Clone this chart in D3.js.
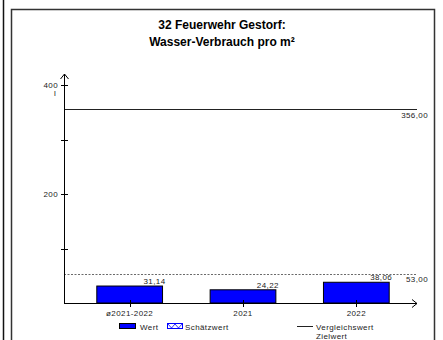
<!DOCTYPE html>
<html>
<head>
<meta charset="utf-8">
<script src="https://cdn.jsdelivr.net/npm/d3@7"></script>
<style>
  body { margin: 0; background: #fff; }
  svg { display: block; font-family: Arial, "Liberation Sans", sans-serif; }
</style>
</head>
<body>
<svg id="chart" width="443" height="340"></svg>
<script>
// chart data
var titleLines = ["32 Feuerwehr Gestorf:", "Wasser-Verbrauch pro m²"];
var categories = ["ø2021-2022", "2021", "2022"];
var values = [31.14, 24.22, 38.06];
var vergleichswert = 356.00;
var zielwert = 53.00;
var yTicks = [100, 200, 300, 400];
var yTickLabels = [200, 400];
var unitLabel = "l";

var svg = d3.select("svg#chart");
var fmt = function (v) { return d3.format(".2f")(v).replace(".", ","); };

// outer frame
svg.append("line")
  .attr("x1", 3.5).attr("x2", 3.5).attr("y1", 0).attr("y2", 340)
  .attr("stroke", "#111").attr("stroke-width", 1.5);
svg.append("path")
  .attr("d", "M11.5,345 V9.5 H434.5 V345")
  .attr("fill", "none").attr("stroke", "#333").attr("stroke-width", 1.5);

// title
svg.append("g").selectAll("text")
  .data(titleLines).enter().append("text")
  .attr("x", 222).attr("y", function (d, i) { return 29 + i * 17; })
  .attr("text-anchor", "middle")
  .attr("font-size", 12).attr("font-weight", "bold")
  .text(function (d) { return d; });

var y = d3.scaleLinear().domain([0, 400]).range([303, 85]);
var x = d3.scaleBand().domain(categories).range([73, 413]).paddingInner(0.42).paddingOuter(0.21);

var small = svg.append("g").attr("font-size", 8).attr("fill", "#222").attr("letter-spacing", 0.4);
var plot = svg.append("g");

// reference lines
plot.append("line")
  .attr("x1", 64).attr("x2", 417)
  .attr("y1", Math.round(y(vergleichswert)) + 0.5).attr("y2", Math.round(y(vergleichswert)) + 0.5)
  .attr("stroke", "#222").attr("stroke-width", 1);
small.append("text")
  .attr("x", 428).attr("y", y(vergleichswert) + 9)
  .attr("text-anchor", "end")
  .text(fmt(vergleichswert));
plot.append("line")
  .attr("x1", 64).attr("x2", 417)
  .attr("y1", Math.round(y(zielwert)) + 0.5).attr("y2", Math.round(y(zielwert)) + 0.5)
  .attr("stroke", "#444").attr("stroke-width", 0.8).attr("stroke-dasharray", "2,1.5");
small.append("text")
  .attr("x", 428).attr("y", y(zielwert) + 8)
  .attr("text-anchor", "end")
  .text(fmt(zielwert));

// bars
plot.selectAll("rect.bar")
  .data(values).enter().append("rect")
  .attr("class", "bar")
  .attr("x", function (d, i) { return x(categories[i]); })
  .attr("width", x.bandwidth())
  .attr("y", function (d) { return y(d); })
  .attr("height", function (d) { return y(0) - y(d); })
  .attr("fill", "#0000ff").attr("stroke", "#000").attr("stroke-width", 1);
small.selectAll("text.val")
  .data(values).enter().append("text")
  .attr("class", "val")
  .attr("x", function (d, i) { return x(categories[i]) + x.bandwidth() + 3; })
  .attr("y", function (d) { return y(d) - 2; })
  .attr("text-anchor", "end")
  .text(function (d) { return fmt(d); });

// y axis
var yAxis = svg.append("g");
yAxis.append("line")
  .attr("x1", 64.5).attr("x2", 64.5).attr("y1", 303).attr("y2", 74)
  .attr("stroke", "#000").attr("stroke-width", 1);
yAxis.append("path")
  .attr("d", "M60.5,79 L64.5,74 L68.5,79")
  .attr("fill", "none").attr("stroke", "#000").attr("stroke-width", 1);
yAxis.selectAll("line.tick")
  .data(yTicks).enter().append("line")
  .attr("class", "tick")
  .attr("x1", 61).attr("x2", 68)
  .attr("y1", function (d) { return Math.round(y(d)) + 0.5; })
  .attr("y2", function (d) { return Math.round(y(d)) + 0.5; })
  .attr("stroke", "#000");
small.selectAll("text.tl")
  .data(yTickLabels).enter().append("text")
  .attr("class", "tl")
  .attr("x", 58).attr("y", function (d) { return y(d) + 3; })
  .attr("text-anchor", "end")
  .text(function (d) { return d; });
small.append("text")
  .attr("x", 55).attr("y", y(400) + 11)
  .attr("text-anchor", "middle")
  .text(unitLabel);

// x axis
var xAxis = svg.append("g");
xAxis.append("line")
  .attr("x1", 64).attr("x2", 417).attr("y1", 303.5).attr("y2", 303.5)
  .attr("stroke", "#000").attr("stroke-width", 1);
xAxis.append("path")
  .attr("d", "M412,299.5 L417,303.5 L412,307.5")
  .attr("fill", "none").attr("stroke", "#000").attr("stroke-width", 1);
xAxis.selectAll("line.tick")
  .data(categories).enter().append("line")
  .attr("class", "tick")
  .attr("x1", function (d) { return Math.round(x(d) + x.bandwidth() / 2) + 0.5; })
  .attr("x2", function (d) { return Math.round(x(d) + x.bandwidth() / 2) + 0.5; })
  .attr("y1", 300).attr("y2", 307)
  .attr("stroke", "#000");
small.selectAll("text.cat")
  .data(categories).enter().append("text")
  .attr("class", "cat")
  .attr("x", function (d) { return x(d) + x.bandwidth() / 2; })
  .attr("y", 316)
  .attr("text-anchor", "middle")
  .text(function (d) { return d; });

// legend
var legend = svg.append("g");
legend.append("rect")
  .attr("x", 119.5).attr("y", 323.5).attr("width", 16).attr("height", 5)
  .attr("fill", "#0000ff").attr("stroke", "#000").attr("stroke-width", 1);
small.append("text").attr("x", 140).attr("y", 330).text("Wert");
legend.append("rect")
  .attr("x", 167.5).attr("y", 323.5).attr("width", 15).attr("height", 5)
  .attr("fill", "#fff").attr("stroke", "#0000ff").attr("stroke-width", 1);
legend.append("path")
  .attr("d", "M168,324 L171.5,328 L175,324 L178.5,328 L182,324")
  .attr("fill", "none").attr("stroke", "#0000ff").attr("stroke-width", 0.8);
small.append("text").attr("x", 185).attr("y", 330).text("Schätzwert");
legend.append("line")
  .attr("x1", 297).attr("x2", 313).attr("y1", 326.5).attr("y2", 326.5)
  .attr("stroke", "#222").attr("stroke-width", 1);
small.append("text").attr("x", 316).attr("y", 330).text("Vergleichswert");
small.append("text").attr("x", 316).attr("y", 339).text("Zielwert");
</script>
</body>
</html>
